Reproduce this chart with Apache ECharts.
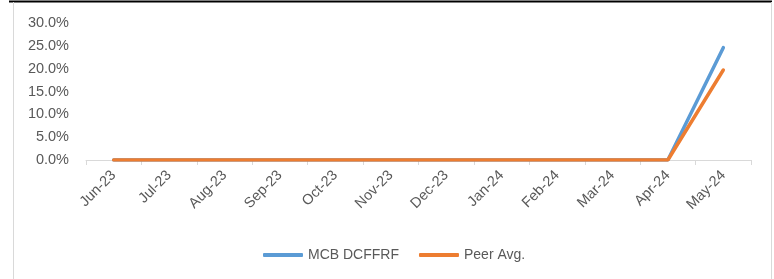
<!DOCTYPE html>
<html>
<head>
<meta charset="utf-8">
<script src="https://cdn.jsdelivr.net/npm/echarts@6/dist/echarts.min.js"></script>
<style>
	html, body { margin: 0; padding: 0; background: #ffffff; }
	#chart { width: 774px; height: 279px; }
</style>
</head>
<body>
<div id="chart"></div>
<script>
	// 月份类目
	const months = ["Jun-23", "Jul-23", "Aug-23", "Sep-23", "Oct-23", "Nov-23",
		"Dec-23", "Jan-24", "Feb-24", "Mar-24", "Apr-24", "May-24"];
	// 基金收益 (%)
	const fundReturns = [0, 0, 0, 0, 0, 0, 0, 0, 0, 0, 0, 24.6];
	// 同业平均 (%)
	const peerReturns = [0, 0, 0, 0, 0, 0, 0, 0, 0, 0, 0, 19.7];

	const textColor = "#595959";
	const axisColor = "#d9d9d9";
	const fontFamily = "'Liberation Sans', Arial, sans-serif";

	const chart = echarts.init(document.getElementById("chart"));

	chart.setOption({
		animation: false,
		// 外框
		graphic: [
			{ type: "line", shape: { x1: 9, y1: 1.5, x2: 772, y2: 1.5 }, style: { stroke: "#000000", lineWidth: 2 } },
			{ type: "line", shape: { x1: 13.5, y1: 2, x2: 13.5, y2: 279 }, style: { stroke: "#d9d9d9", lineWidth: 1 } },
			{ type: "line", shape: { x1: 771.5, y1: 2, x2: 771.5, y2: 279 }, style: { stroke: "#d9d9d9", lineWidth: 1 } },
		],
		grid: {
			left: 86,
			right: 23,
			top: 23,
			bottom: 119,
		},
		legend: {
			data: ["MCB DCFFRF", "Peer Avg."],
			bottom: 12,
			left: 258,
			icon: "roundRect",
			itemWidth: 40,
			itemHeight: 4,
			itemGap: 20,
			textStyle: {
				color: textColor,
				fontSize: 14,
				fontFamily: fontFamily,
			},
		},
		xAxis: {
			type: "category",
			data: months,
			boundaryGap: true,
			axisLine: { lineStyle: { color: axisColor, width: 1 } },
			axisTick: { show: true, length: 5, lineStyle: { color: axisColor } },
			axisLabel: {
				interval: 0,
				rotate: 45,
				margin: 13,
				color: textColor,
				fontSize: 14.5,
				fontFamily: fontFamily,
			},
			splitLine: { show: false },
		},
		yAxis: {
			type: "value",
			min: 0,
			max: 30,
			interval: 5,
			axisLine: { show: false },
			axisTick: { show: false },
			splitLine: { show: false },
			axisLabel: {
				color: textColor,
				fontSize: 14.5,
				fontFamily: fontFamily,
				margin: 17,
				formatter: (v) => v.toFixed(1) + "%",
			},
		},
		series: [
			{
				name: "MCB DCFFRF",
				type: "line",
				data: fundReturns,
				symbol: "none",
				lineStyle: { color: "#5b9bd5", width: 3.5, cap: "round" },
				itemStyle: { color: "#5b9bd5" },
			},
			{
				name: "Peer Avg.",
				type: "line",
				data: peerReturns,
				symbol: "none",
				lineStyle: { color: "#ed7d31", width: 3.5, cap: "round" },
				itemStyle: { color: "#ed7d31" },
			},
		],
	});
</script>
</body>
</html>
